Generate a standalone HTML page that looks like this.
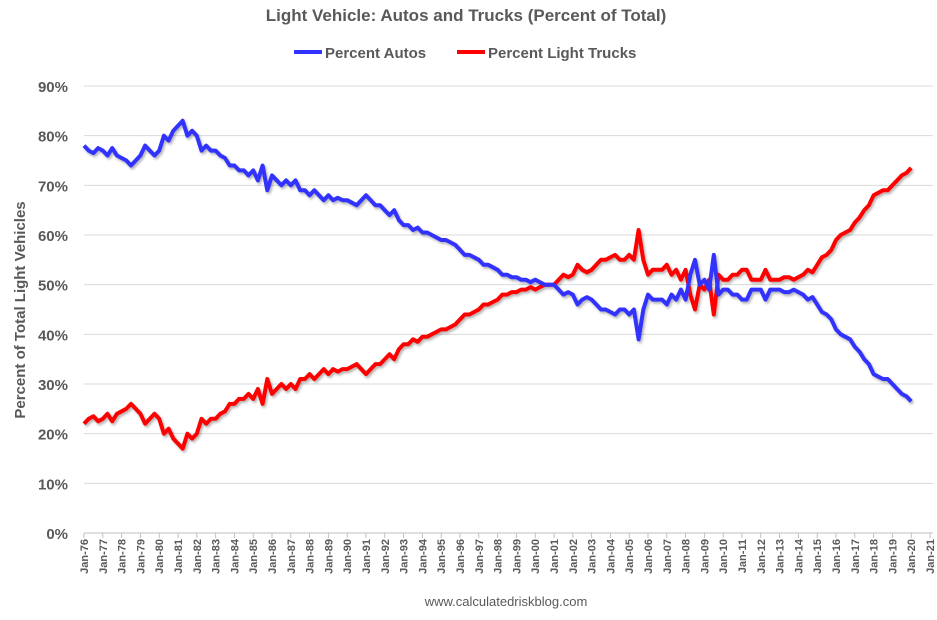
<!DOCTYPE html>
<html><head><meta charset="utf-8">
<style>
body{margin:0;background:#fff;font-family:"Liberation Sans",Arial,sans-serif;}
svg{display:block}
</style></head>
<body>
<svg id="chart" width="937" height="620" viewBox="0 0 937 620" xmlns="http://www.w3.org/2000/svg">
<defs><filter id="sh" x="-5%" y="-5%" width="110%" height="110%"><feDropShadow dx="1.5" dy="2" stdDeviation="1.2" flood-color="#000" flood-opacity="0.3"/></filter></defs>
<text x="466" y="21" text-anchor="middle" font-size="17" font-weight="bold" fill="#595959">Light Vehicle: Autos and Trucks (Percent of Total)</text>
<g>
<line x1="294" y1="52" x2="322" y2="52" stroke="#3333ff" stroke-width="4"/>
<text x="325" y="58" font-size="15" font-weight="bold" fill="#595959">Percent Autos</text>
<line x1="457" y1="52" x2="485" y2="52" stroke="#ff0000" stroke-width="4"/>
<text x="488" y="58" font-size="15" font-weight="bold" fill="#595959">Percent Light Trucks</text>
</g>
<text transform="translate(25,310) rotate(-90)" text-anchor="middle" font-size="15" font-weight="bold" fill="#595959">Percent of Total Light Vehicles</text>
<g id="grid"></g><g id="yticks"></g><g id="xticks"></g><g id="series" filter="url(#sh)"></g>
<text x="506" y="606" text-anchor="middle" font-size="13" fill="#595959">www.calculatedriskblog.com</text>
</svg>
<script>
const yTicks=[0,10,20,30,40,50,60,70,80,90];
const xLabels=["Jan-76","Jan-77","Jan-78","Jan-79","Jan-80","Jan-81","Jan-82","Jan-83","Jan-84","Jan-85","Jan-86","Jan-87","Jan-88","Jan-89","Jan-90","Jan-91","Jan-92","Jan-93","Jan-94","Jan-95","Jan-96","Jan-97","Jan-98","Jan-99","Jan-00","Jan-01","Jan-02","Jan-03","Jan-04","Jan-05","Jan-06","Jan-07","Jan-08","Jan-09","Jan-10","Jan-11","Jan-12","Jan-13","Jan-14","Jan-15","Jan-16","Jan-17","Jan-18","Jan-19","Jan-20","Jan-21"];
// quarterly values, 1976 Q1 .. 2020 Q1
const autos=[
78,77,76.5,77.5, 77,76,77.5,76, 75.5,75,74,75, 76,78,77,76, 77,80,79,81,
82,83,80,81, 80,77,78,77, 77,76,75.5,74, 74,73,73,72, 73,71,74,69,
72,71,70,71, 70,71,69,69, 68,69,68,67, 68,67,67.5,67, 67,66.5,66,67,
68,67,66,66, 65,64,65,63, 62,62,61,61.5, 60.5,60.5,60,59.5, 59,59,58.5,58,
57,56,56,55.5, 55,54,54,53.5, 53,52,52,51.5, 51.5,51,51,50.5, 51,50.5,50,50,
50,49,48,48.5, 48,46,47,47.5, 47,46,45,45, 44.5,44,45,45, 44,45,39,45,
48,47,47,47, 46,48,47,49, 47,52,55,50, 51,49,56,48, 49,49,48,48,
47,47,49,49, 49,47,49,49, 49,48.5,48.5,49, 48.5,48,47,47.5, 46,44.5,44,43,
41,40,39.5,39, 37.5,36.5,35,34, 32,31.5,31,31, 30,29,28,27.5, 26.5];
const trucks=[
22,23,23.5,22.5, 23,24,22.5,24, 24.5,25,26,25, 24,22,23,24, 23,20,21,19,
18,17,20,19, 20,23,22,23, 23,24,24.5,26, 26,27,27,28, 27,29,26,31,
28,29,30,29, 30,29,31,31, 32,31,32,33, 32,33,32.5,33, 33,33.5,34,33,
32,33,34,34, 35,36,35,37, 38,38,39,38.5, 39.5,39.5,40,40.5, 41,41,41.5,42,
43,44,44,44.5, 45,46,46,46.5, 47,48,48,48.5, 48.5,49,49,49.5, 49,49.5,50,50,
50,51,52,51.5, 52,54,53,52.5, 53,54,55,55, 55.5,56,55,55, 56,55,61,55,
52,53,53,53, 54,52,53,51, 53,48,45,50, 49,51,44,52, 51,51,52,52,
53,53,51,51, 51,53,51,51, 51,51.5,51.5,51, 51.5,52,53,52.5, 54,55.5,56,57,
59,60,60.5,61, 62.5,63.5,65,66, 68,68.5,69,69, 70,71,72,72.5, 73.5];
const NS="http://www.w3.org/2000/svg";
const X0=84,X1=930,Y0=533,Y1=86;
const xAt=t=>X0+(t/45)*(X1-X0);
const yAt=v=>Y0-(v/90)*(Y0-Y1);
function mk(tag,attrs,parent,txt){const e=document.createElementNS(NS,tag);for(const k in attrs)e.setAttribute(k,attrs[k]);if(txt!==undefined)e.textContent=txt;parent.appendChild(e);return e;}
const grid=document.getElementById('grid'),yt=document.getElementById('yticks'),xt=document.getElementById('xticks'),ser=document.getElementById('series');
yTicks.forEach(v=>{
 const l=mk('line',{x1:X0,x2:X1+3,y1:yAt(v),y2:yAt(v),stroke:v===0?'#bfbfbf':'#d9d9d9','stroke-width':1},grid);
 
 
 const t=mk('text',{x:68,y:yAt(v)+6,'text-anchor':'end','font-size':15,'font-weight':'bold',fill:'#595959'},yt,v+'%');
 
 
});
xLabels.forEach((s,i)=>{
 const x=xAt(i);
 const tk=mk('line',{x1:x,x2:x,y1:Y0,y2:Y0+5,stroke:'#bfbfbf'},xt);
 
 
 const t=mk('text',{transform:`translate(${x+4},${Y0+6}) rotate(-90)`,'text-anchor':'end','font-size':11,'font-weight':'bold',fill:'#595959'},xt,s);
 
 
});
function line(data,color,name){
 const d=data.map((v,i)=>(i?'L':'M')+xAt(i/4).toFixed(1)+','+yAt(v).toFixed(1)).join('');
 const p=mk('path',{d:d,fill:'none',stroke:color,'stroke-width':4,'stroke-linejoin':'round'},ser);
 
 
}
line(trucks,'#ff0000','series-light-trucks');
line(autos,'#3333ff','series-autos');
</script>
</body></html>
